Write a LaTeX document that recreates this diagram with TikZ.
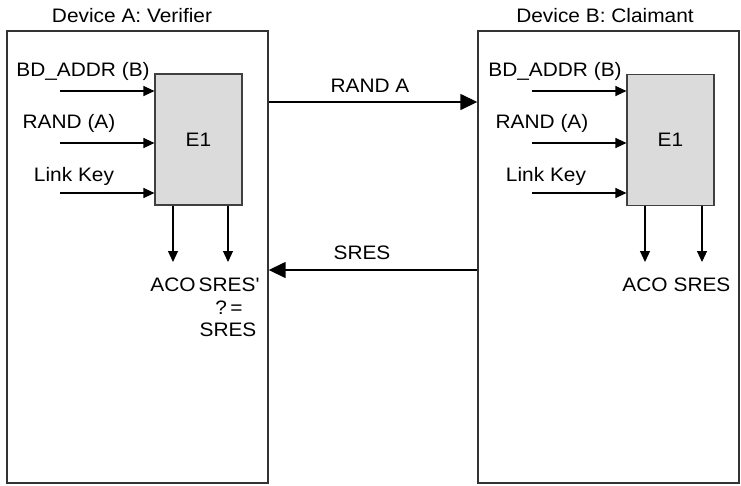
\documentclass[tikz,border=0pt]{standalone}
\usepackage{fontspec}
\setmainfont{Liberation Sans}[FakeStretch=1.07]
\usetikzlibrary{arrows.meta}
\begin{document}
\begin{tikzpicture}[x=1pt,y=-1pt,
  every node/.style={font=\fontsize{19.5}{22}\selectfont, inner sep=0pt},
  device/.style={draw=black!80, line width=1.4pt, minimum width=261pt, minimum height=452pt},
  engine/.style={draw=black!75, line width=1.1pt, fill=black!14, minimum width=87pt, minimum height=131pt},
  inarrow/.style={line width=1.1pt, -{Triangle[length=11pt,width=10pt]}},
  bigarrow/.style={line width=1.5pt, -{Triangle[length=17pt,width=16pt]}}]
\useasboundingbox (0,0) rectangle (741,485);
% devices
\node[device] (A) at (137.5,257) {};
\node[device] (B) at (608.5,257) {};
\node (tA) at (132,16) {Device A: Verifier};
\node (tB) at (605,16) {Device B: Claimant};
% engines
\node[engine] (EA) at (198.5,139.5) {};
\node at (EA.center) {E1};
\node[engine] (EB) at (670.5,140) {};
\node at (EB.center) {E1};
% left inputs
\node (a1) at (83,71) {BD\_ADDR (B)};
\node (a2) at (69,123) {RAND (A)};
\node (a3) at (74,176) {Link Key};
\coordinate (ai1) at (60,91);
\coordinate (ai2) at (60,143);
\coordinate (ai3) at (60,193);
\draw[inarrow] (ai1) -- (EA.west |- ai1);
\draw[inarrow] (ai2) -- (EA.west |- ai2);
\draw[inarrow] (ai3) -- (EA.west |- ai3);
% right inputs
\node (b1) at (555,71) {BD\_ADDR (B)};
\node (b2) at (542,123) {RAND (A)};
\node (b3) at (546,176) {Link Key};
\coordinate (bi1) at (532,91);
\coordinate (bi2) at (532,143);
\coordinate (bi3) at (532,193);
\draw[inarrow] (bi1) -- (EB.west |- bi1);
\draw[inarrow] (bi2) -- (EB.west |- bi2);
\draw[inarrow] (bi3) -- (EB.west |- bi3);
% left outputs
\node (aco) at (173,285) {ACO};
\node (sresp) at (229,285) {SRES\textquotesingle};
\node (q) at (229,308) {?\,=};
\node (sres2) at (228,330) {SRES};
\coordinate (ao1) at (173,262);
\coordinate (ao2) at (228,262);
\draw[inarrow] (EA.south -| ao1) -- (ao1);
\draw[inarrow] (EA.south -| ao2) -- (ao2);
% right outputs
\node (bco) at (645,285) {ACO};
\node (bsres) at (702,285) {SRES};
\coordinate (bo1) at (645,262);
\coordinate (bo2) at (702,262);
\draw[inarrow] (EB.south -| bo1) -- (bo1);
\draw[inarrow] (EB.south -| bo2) -- (bo2);
% messages
\coordinate (m1) at (0,102);
\coordinate (m2) at (0,270);
\draw[bigarrow] (A.east |- m1) -- (B.west |- m1);
\node (rl) at (370,86) {RAND A};
\draw[bigarrow] (B.west |- m2) -- (A.east |- m2);
\node (sl) at (362,253) {SRES};
\end{tikzpicture}
\end{document}
